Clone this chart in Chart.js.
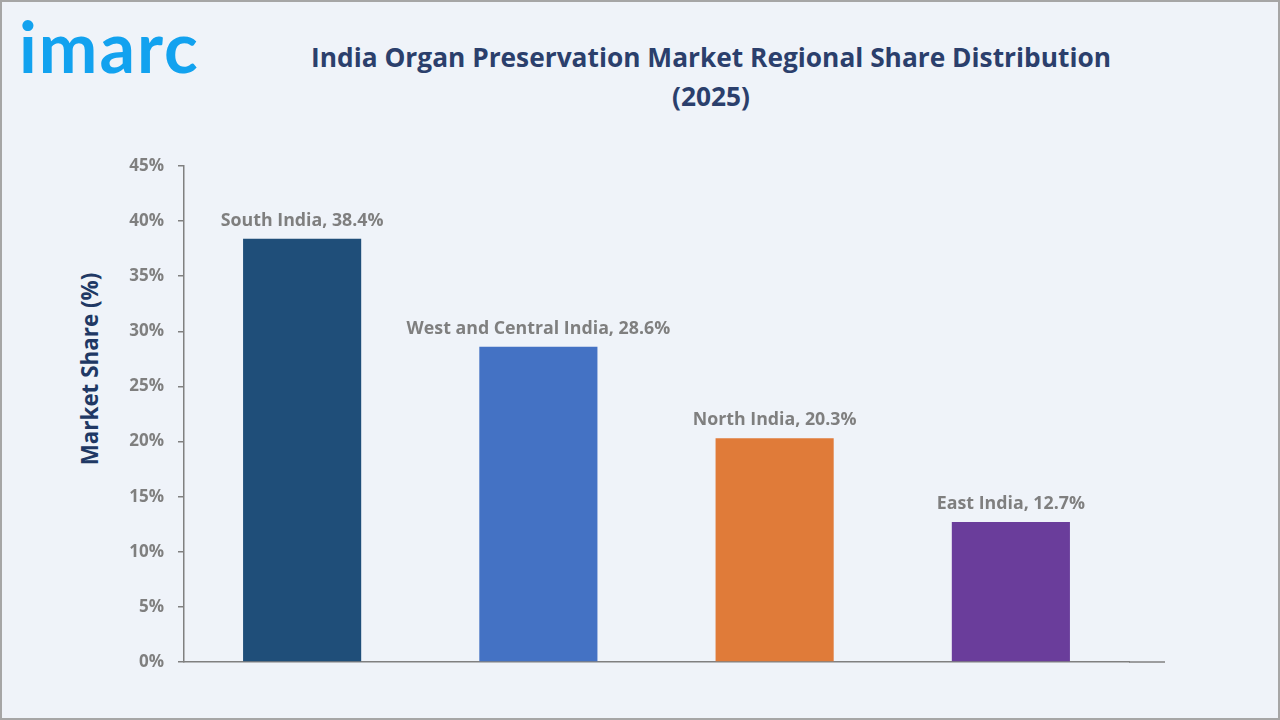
<!DOCTYPE html>
<html>
<head>
<meta charset="utf-8">
<script src="https://cdn.jsdelivr.net/npm/chart.js@4.4.1/dist/chart.umd.min.js"></script>
<style>
  html, body { margin: 0; padding: 0; }
  body {
    width: 1280px; height: 720px; overflow: hidden;
    background: #eff3f9; position: relative;
    font-family: "Open Sans", sans-serif;
  }
  #frame {
    position: absolute; left: 0; top: 0; width: 1276px; height: 716px;
    border: 2px solid #a6a6a6;
  }
  #logo {
    position: absolute; left: 19px; top: 4px;
    font-family: "Lato", sans-serif; font-weight: 700; font-size: 70px;
    color: #12a2ef; letter-spacing: 2px;
  }
  #title {
    position: absolute; left: 300px; width: 822px; top: 38px;
    text-align: center; color: #2b3f6c; font-weight: 700; font-size: 26.3px; line-height: 39px;
  }
  #ytitle {
    position: absolute; left: 89px; top: 369px;
    transform: translate(-50%, -50%) rotate(-90deg);
    white-space: nowrap; color: #203864; font-weight: 700; font-size: 22.4px;
  }
  #chart { position: absolute; left: 0; top: 0; }
</style>
</head>
<body>
<div id="frame"></div>
<div id="logo">imarc</div>
<div id="title">India Organ Preservation Market Regional Share Distribution<br>(2025)</div>
<div id="ytitle">Market Share (%)</div>
<canvas id="chart" width="1280" height="720"></canvas>
<script>
const regions = ['South India', 'West and Central India', 'North India', 'East India'];
const shares = [38.4, 28.6, 20.3, 12.7];
const barColors = ['#1f4e79', '#4472c4', '#e07b39', '#6a3d9b'];
const yTicks = [0, 5, 10, 15, 20, 25, 30, 35, 40, 45];

// labels above each bar: "Region, value%"
const barLabels = {
    id: 'barLabels',
    afterDatasetsDraw(chart) {
        const ctx = chart.ctx;
        const meta = chart.getDatasetMeta(0);
        ctx.save();
        ctx.font = 'bold 17.8px "Open Sans", sans-serif';
        ctx.fillStyle = '#7f7f7f';
        ctx.textAlign = 'center';
        ctx.textBaseline = 'bottom';
        meta.data.forEach((bar, i) => {
            ctx.fillText(regions[i] + ', ' + shares[i] + '%', bar.x, bar.y - 9);
        });
        ctx.restore();
    }
};

// the x axis line runs a bit past the last category
const axisExtend = {
    id: 'axisExtend',
    afterDraw(chart) {
        const ctx = chart.ctx;
        const area = chart.chartArea;
        ctx.save();
        ctx.strokeStyle = '#808080';
        ctx.lineWidth = 1.5;
        ctx.beginPath();
        ctx.moveTo(area.right, area.bottom);
        ctx.lineTo(area.right + 36, area.bottom);
        ctx.stroke();
        ctx.restore();
    }
};

new Chart(document.getElementById('chart'), {
    type: 'bar',
    data: {
        labels: regions,
        datasets: [{
            data: shares,
            backgroundColor: barColors,
            barPercentage: 0.5,
            categoryPercentage: 1.0
        }]
    },
    options: {
        responsive: false,
        animation: false,
        devicePixelRatio: 1,
        layout: { padding: { top: 166, right: 151, bottom: 58, left: 0 } },
        scales: {
            x: {
                ticks: { display: false },
                grid: { display: false },
                border: { color: '#808080', width: 1.5 },
                afterFit(scale) { scale.height = 0; }
            },
            y: {
                min: 0,
                max: 45,
                afterBuildTicks(scale) { scale.ticks = yTicks.map(v => ({ value: v })); },
                ticks: {
                    color: '#7f7f7f',
                    font: { family: '"Open Sans", sans-serif', size: 17, weight: 'bold' },
                    padding: 14,
                    callback: v => v + '%'
                },
                grid: { drawOnChartArea: false, tickLength: 6, color: '#808080', lineWidth: 1.5 },
                border: { color: '#808080', width: 1.5 },
                afterFit(scale) { scale.width = 184; }
            }
        },
        plugins: {
            legend: { display: false },
            tooltip: { enabled: false }
        }
    },
    plugins: [barLabels, axisExtend]
});
</script>
</body>
</html>
